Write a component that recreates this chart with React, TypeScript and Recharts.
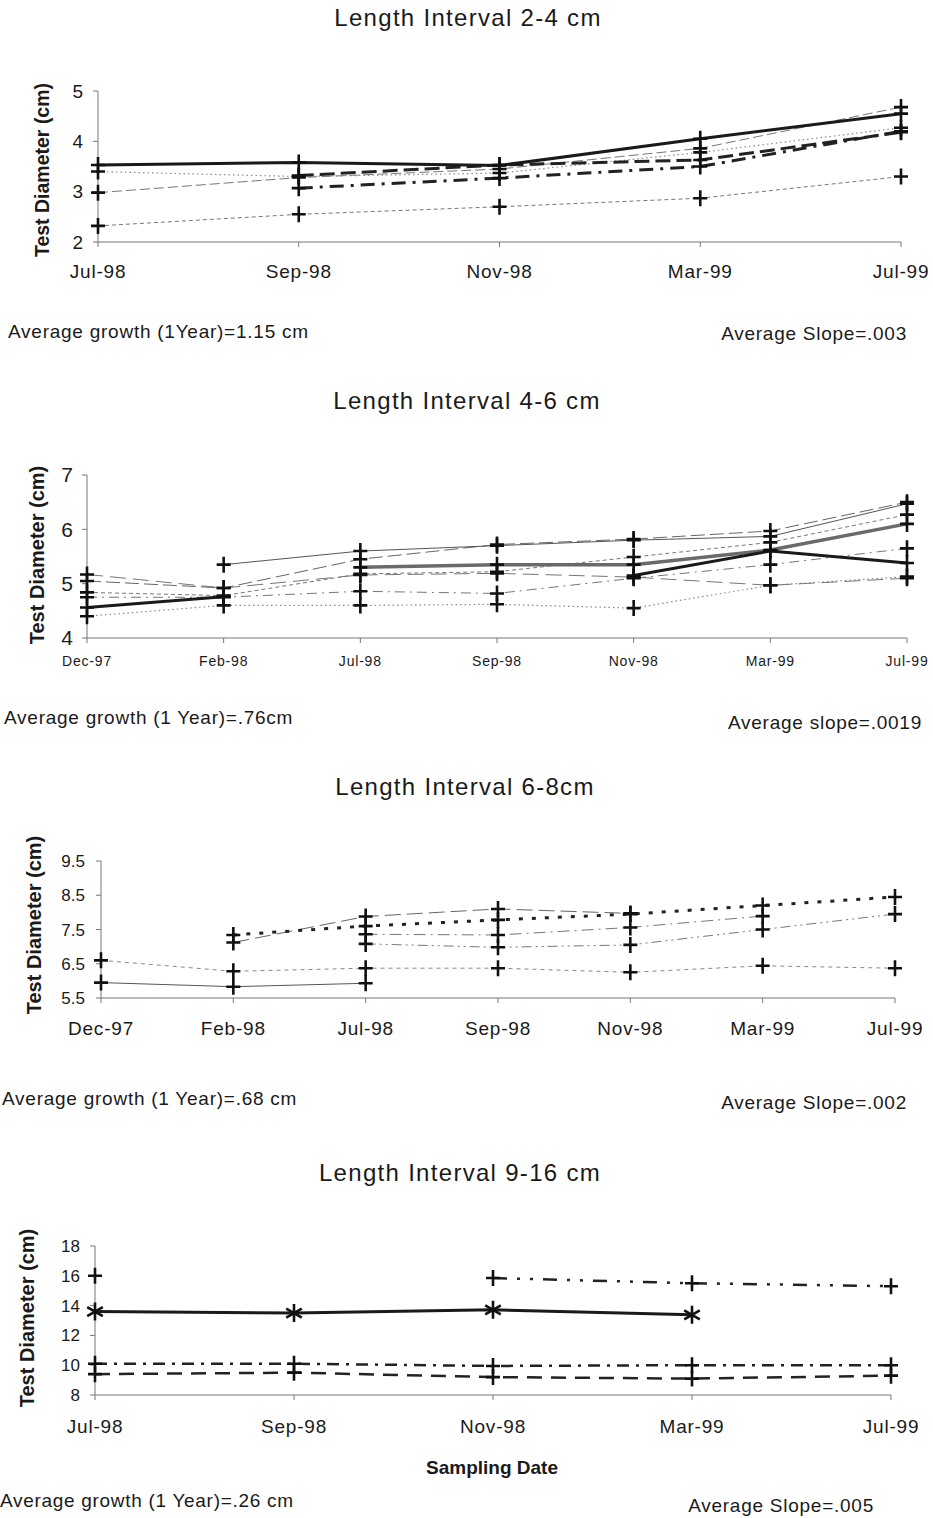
import React from "react";
import { LineChart, Line, XAxis, YAxis } from "recharts";

// ---- panel 1: Length Interval 2-4 cm
const p1Dates = ["Jul-98", "Sep-98", "Nov-98", "Mar-99", "Jul-99"];
const p1Solid = [3.53, 3.58, 3.52, 4.05, 4.55];
const p1Dotted = [3.4, 3.3, 3.37, 3.78, 4.27];
const p1ThinDash = [2.98, 3.28, 3.45, 3.86, 4.68];
const p1LowDash = [2.32, 2.55, 2.7, 2.87, 3.3];
const p1ThickDash = [null, 3.32, 3.53, 3.63, 4.18];
const p1DashDot = [null, 3.07, 3.27, 3.5, 4.2];

// ---- panel 2: Length Interval 4-6 cm
const p2Dates = ["Dec-97", "Feb-98", "Jul-98", "Sep-98", "Nov-98", "Mar-99", "Jul-99"];
const p2ThinSolid = [null, 5.35, 5.6, 5.7, 5.8, 5.87, 6.47];
const p2LongDash = [5.05, 4.92, 5.45, 5.72, 5.82, 5.97, 6.5];
const p2ThickSolid = [4.56, 4.76, null, null, 5.15, 5.6, 5.38];
const p2Grey = [null, null, 5.3, 5.35, 5.35, 5.62, 6.1];
const p2ShortDash = [4.84, 4.78, 5.18, 5.22, 5.49, 5.76, 6.27];
const p2DashDot = [4.75, 4.75, 4.86, 4.82, 5.1, 5.35, 5.65];
const p2Dotted = [4.4, 4.6, 4.6, 4.62, 4.55, 4.97, 5.13];
const p2LowLong = [5.17, 4.92, 5.16, 5.19, 5.12, 4.97, 5.1];

// ---- panel 3: Length Interval 6-8cm
const p3Dates = ["Dec-97", "Feb-98", "Jul-98", "Sep-98", "Nov-98", "Mar-99", "Jul-99"];
const p3Solid = [5.95, 5.83, 5.93, null, null, null, null];
const p3LowDot = [6.6, 6.28, 6.37, 6.37, 6.25, 6.44, 6.37];
const p3LongDash = [null, 7.12, 7.88, 8.1, 7.97, null, null];
const p3ThickDot = [null, 7.34, 7.6, 7.78, 7.95, 8.2, 8.45];
const p3DashDot = [null, null, 7.36, 7.34, 7.56, 7.89, null];
const p3DashDot2 = [null, null, 7.08, 6.98, 7.05, 7.5, 7.95];

// ---- panel 4: Length Interval 9-16 cm
const p4Dates = ["Jul-98", "Sep-98", "Nov-98", "Mar-99", "Jul-99"];
const p4Upper = [16.0, null, 15.85, 15.5, 15.3];
const p4Star = [13.6, 13.5, 13.72, 13.38, null];
const p4DashDot = [10.1, 10.1, 9.95, 10.0, 10.0];
const p4Dash = [9.4, 9.5, 9.2, 9.1, 9.3];

const FONT = "'Liberation Sans', Arial, sans-serif";
const INK = "#1a1a1a";

type Series = {
  key: string;
  values: (number | null)[];
  color: string;
  width: number;
  dash?: string;
  marker?: "plus" | "star";
};

const plusDot = (props: any) => {
  const { cx, cy, index } = props;
  if (cx == null || cy == null) return <g key={`p-${index}`} />;
  return (
    <path
      key={`p-${index}`}
      d={`M${cx - 7},${cy}H${cx + 7}M${cx},${cy - 8}V${cy + 8}`}
      stroke="#111"
      strokeWidth={2.6}
      fill="none"
    />
  );
};

const starDot = (props: any) => {
  const { cx, cy, index } = props;
  if (cx == null || cy == null) return <g key={`s-${index}`} />;
  const r = 9;
  const dx = r * 0.866;
  const dy = r * 0.5;
  return (
    <path
      key={`s-${index}`}
      d={`M${cx},${cy - r}V${cy + r}M${cx - dx},${cy - dy}L${cx + dx},${cy + dy}M${cx - dx},${cy + dy}L${cx + dx},${cy - dy}`}
      stroke="#111"
      strokeWidth={2.6}
      fill="none"
    />
  );
};

const buildRows = (dates: string[], series: Series[]) =>
  dates.map((d, i) => {
    const row: any = { date: d };
    series.forEach((s) => (row[s.key] = s.values[i]));
    return row;
  });

type PanelProps = {
  dates: string[];
  series: Series[];
  x0: number;
  x1: number;
  yTop: number;
  yBottom: number;
  domain: [number, number];
  ticks: number[];
  yFont: number;
  yTickMargin: number;
  xFont: number;
  xTickMargin: number;
};

const TOP = 20;

const Panel = (p: PanelProps) => {
  const data = buildRows(p.dates, p.series);
  const height = p.yBottom - p.yTop + TOP + 50;
  return (
    <div style={{ position: "absolute", left: 0, top: p.yTop - TOP }}>
      <LineChart
        width={933}
        height={height}
        data={data}
        margin={{ top: TOP, right: 933 - p.x1, bottom: 10, left: p.x0 - 60 }}
      >
        <XAxis
          dataKey="date"
          scale="point"
          padding={{ left: 0, right: 0 }}
          interval={0}
          height={40}
          stroke="#777"
          tickSize={5}
          tickMargin={p.xTickMargin}
          tick={{ fontSize: p.xFont, fill: INK, fontFamily: FONT, letterSpacing: 0.8 }}
        />
        <YAxis
          type="number"
          domain={p.domain}
          ticks={p.ticks}
          interval={0}
          width={60}
          stroke="#777"
          tickSize={5}
          tickMargin={p.yTickMargin}
          tick={{ fontSize: p.yFont, fill: INK, fontFamily: FONT }}
        />
        {p.series.map((s) => (
          <Line
            key={s.key}
            dataKey={s.key}
            type="linear"
            stroke={s.color}
            strokeWidth={s.width}
            strokeDasharray={s.dash}
            dot={s.marker === "star" ? starDot : plusDot}
            activeDot={false}
            isAnimationActive={false}
          />
        ))}
      </LineChart>
    </div>
  );
};

const Text = ({
  children,
  left,
  right,
  cx,
  cy,
  size,
  bold,
  spacing = 0,
  rotate,
}: {
  children: React.ReactNode;
  left?: number;
  right?: number;
  cx?: number;
  cy: number;
  size: number;
  bold?: boolean;
  spacing?: number;
  rotate?: boolean;
}) => {
  const style: React.CSSProperties = {
    position: "absolute",
    top: cy,
    fontFamily: FONT,
    fontSize: size,
    fontWeight: bold ? 700 : 400,
    letterSpacing: spacing,
    color: INK,
    whiteSpace: "nowrap",
    lineHeight: 1,
  };
  if (cx != null) {
    style.left = cx;
    style.transform = `translate(-50%, -50%)${rotate ? " rotate(-90deg)" : ""}`;
  } else if (left != null) {
    style.left = left;
    style.transform = "translateY(-50%)";
  } else {
    style.right = right;
    style.transform = "translateY(-50%)";
  }
  return <div style={style}>{children}</div>;
};

const s1: Series[] = [
  { key: "lowDash", values: p1LowDash, color: "#777", width: 1, dash: "4 3" },
  { key: "thinDash", values: p1ThinDash, color: "#777", width: 1, dash: "10 4" },
  { key: "dotted", values: p1Dotted, color: "#888", width: 1.2, dash: "1.5 3" },
  { key: "dashDot", values: p1DashDot, color: "#222", width: 3, dash: "14 7 3 7" },
  { key: "thickDash", values: p1ThickDash, color: "#222", width: 3, dash: "15 6" },
  { key: "solid", values: p1Solid, color: "#1a1a1a", width: 3 },
];

const s2: Series[] = [
  { key: "dotted", values: p2Dotted, color: "#888", width: 1.2, dash: "1.5 3" },
  { key: "dashDot", values: p2DashDot, color: "#777", width: 1, dash: "10 5 2 5" },
  { key: "lowLong", values: p2LowLong, color: "#777", width: 1, dash: "16 7" },
  { key: "shortDash", values: p2ShortDash, color: "#777", width: 1, dash: "4 3" },
  { key: "longDash", values: p2LongDash, color: "#666", width: 1, dash: "14 5" },
  { key: "thinSolid", values: p2ThinSolid, color: "#555", width: 1 },
  { key: "grey", values: p2Grey, color: "#6a6a6a", width: 3.5 },
  { key: "thickSolid", values: p2ThickSolid, color: "#1a1a1a", width: 3 },
];

const s3: Series[] = [
  { key: "solid", values: p3Solid, color: "#555", width: 1 },
  { key: "lowDot", values: p3LowDot, color: "#888", width: 1, dash: "4 4" },
  { key: "longDash", values: p3LongDash, color: "#666", width: 1, dash: "16 6" },
  { key: "dashDot", values: p3DashDot, color: "#777", width: 1, dash: "12 5 2 5" },
  { key: "dashDot2", values: p3DashDot2, color: "#777", width: 1, dash: "10 4 2 4 2 4" },
  { key: "thickDot", values: p3ThickDot, color: "#222", width: 3, dash: "4 9" },
];

const s4: Series[] = [
  { key: "upper", values: p4Upper, color: "#222", width: 2.5, dash: "14 10 3 10 3 10" },
  { key: "star", values: p4Star, color: "#1a1a1a", width: 3, marker: "star" },
  { key: "dashDot", values: p4DashDot, color: "#222", width: 2.5, dash: "12 7 3 7" },
  { key: "dash", values: p4Dash, color: "#222", width: 2.5, dash: "15 9" },
];

export default function App() {
  return (
    <div
      style={{
        position: "absolute",
        left: 0,
        top: 0,
        width: 933,
        height: 1518,
        background: "#fff",
        overflow: "hidden",
      }}
    >
      {/* panel 1 */}
      <Text cx={468} cy={18} size={24} spacing={1.3}>Length Interval 2-4 cm</Text>
      <Text cx={43} cy={170} size={19.5} bold rotate>Test Diameter (cm)</Text>
      <Panel
        dates={p1Dates}
        series={s1}
        x0={98}
        x1={901}
        yTop={91}
        yBottom={242}
        domain={[2, 5]}
        ticks={[2, 3, 4, 5]}
        yFont={19}
        yTickMargin={10}
        xFont={19}
        xTickMargin={18}
      />
      <Text left={8} cy={331} size={19} spacing={0.75}>Average growth (1Year)=1.15 cm</Text>
      <Text right={933 - 907} cy={333} size={19} spacing={0.75}>Average Slope=.003</Text>

      {/* panel 2 */}
      <Text cx={467} cy={401} size={24} spacing={1.3}>Length Interval 4-6 cm</Text>
      <Text cx={37} cy={555} size={20} bold rotate>Test Diameter (cm)</Text>
      <Panel
        dates={p2Dates}
        series={s2}
        x0={87}
        x1={907}
        yTop={475}
        yBottom={638}
        domain={[4, 7]}
        ticks={[4, 5, 6, 7]}
        yFont={21}
        yTickMargin={9}
        xFont={14}
        xTickMargin={13}
      />
      <Text left={4} cy={717} size={19} spacing={0.75}>Average growth (1 Year)=.76cm</Text>
      <Text right={933 - 922} cy={722} size={19} spacing={0.75}>Average slope=.0019</Text>

      {/* panel 3 */}
      <Text cx={465} cy={787} size={24} spacing={1.3}>Length Interval 6-8cm</Text>
      <Text cx={34} cy={925} size={20} bold rotate>Test Diameter (cm)</Text>
      <Panel
        dates={p3Dates}
        series={s3}
        x0={101}
        x1={895}
        yTop={861}
        yBottom={998}
        domain={[5.5, 9.5]}
        ticks={[5.5, 6.5, 7.5, 8.5, 9.5]}
        yFont={17}
        yTickMargin={11}
        xFont={19}
        xTickMargin={19}
      />
      <Text left={2} cy={1098} size={19} spacing={0.75}>Average growth (1 Year)=.68 cm</Text>
      <Text right={933 - 907} cy={1102} size={19} spacing={0.75}>Average Slope=.002</Text>

      {/* panel 4 */}
      <Text cx={460} cy={1173} size={24} spacing={1.3}>Length Interval 9-16 cm</Text>
      <Text cx={27} cy={1318} size={20} bold rotate>Test Diameter (cm)</Text>
      <Panel
        dates={p4Dates}
        series={s4}
        x0={95}
        x1={891}
        yTop={1246}
        yBottom={1395}
        domain={[8, 18]}
        ticks={[8, 10, 12, 14, 16, 18]}
        yFont={17}
        yTickMargin={10}
        xFont={19}
        xTickMargin={20}
      />
      <Text cx={492} cy={1467} size={19} bold>Sampling Date</Text>
      <Text left={0} cy={1500} size={19} spacing={0.7}>Average growth (1 Year)=.26 cm</Text>
      <Text right={933 - 874} cy={1505} size={19} spacing={0.75}>Average Slope=.005</Text>
    </div>
  );
}
